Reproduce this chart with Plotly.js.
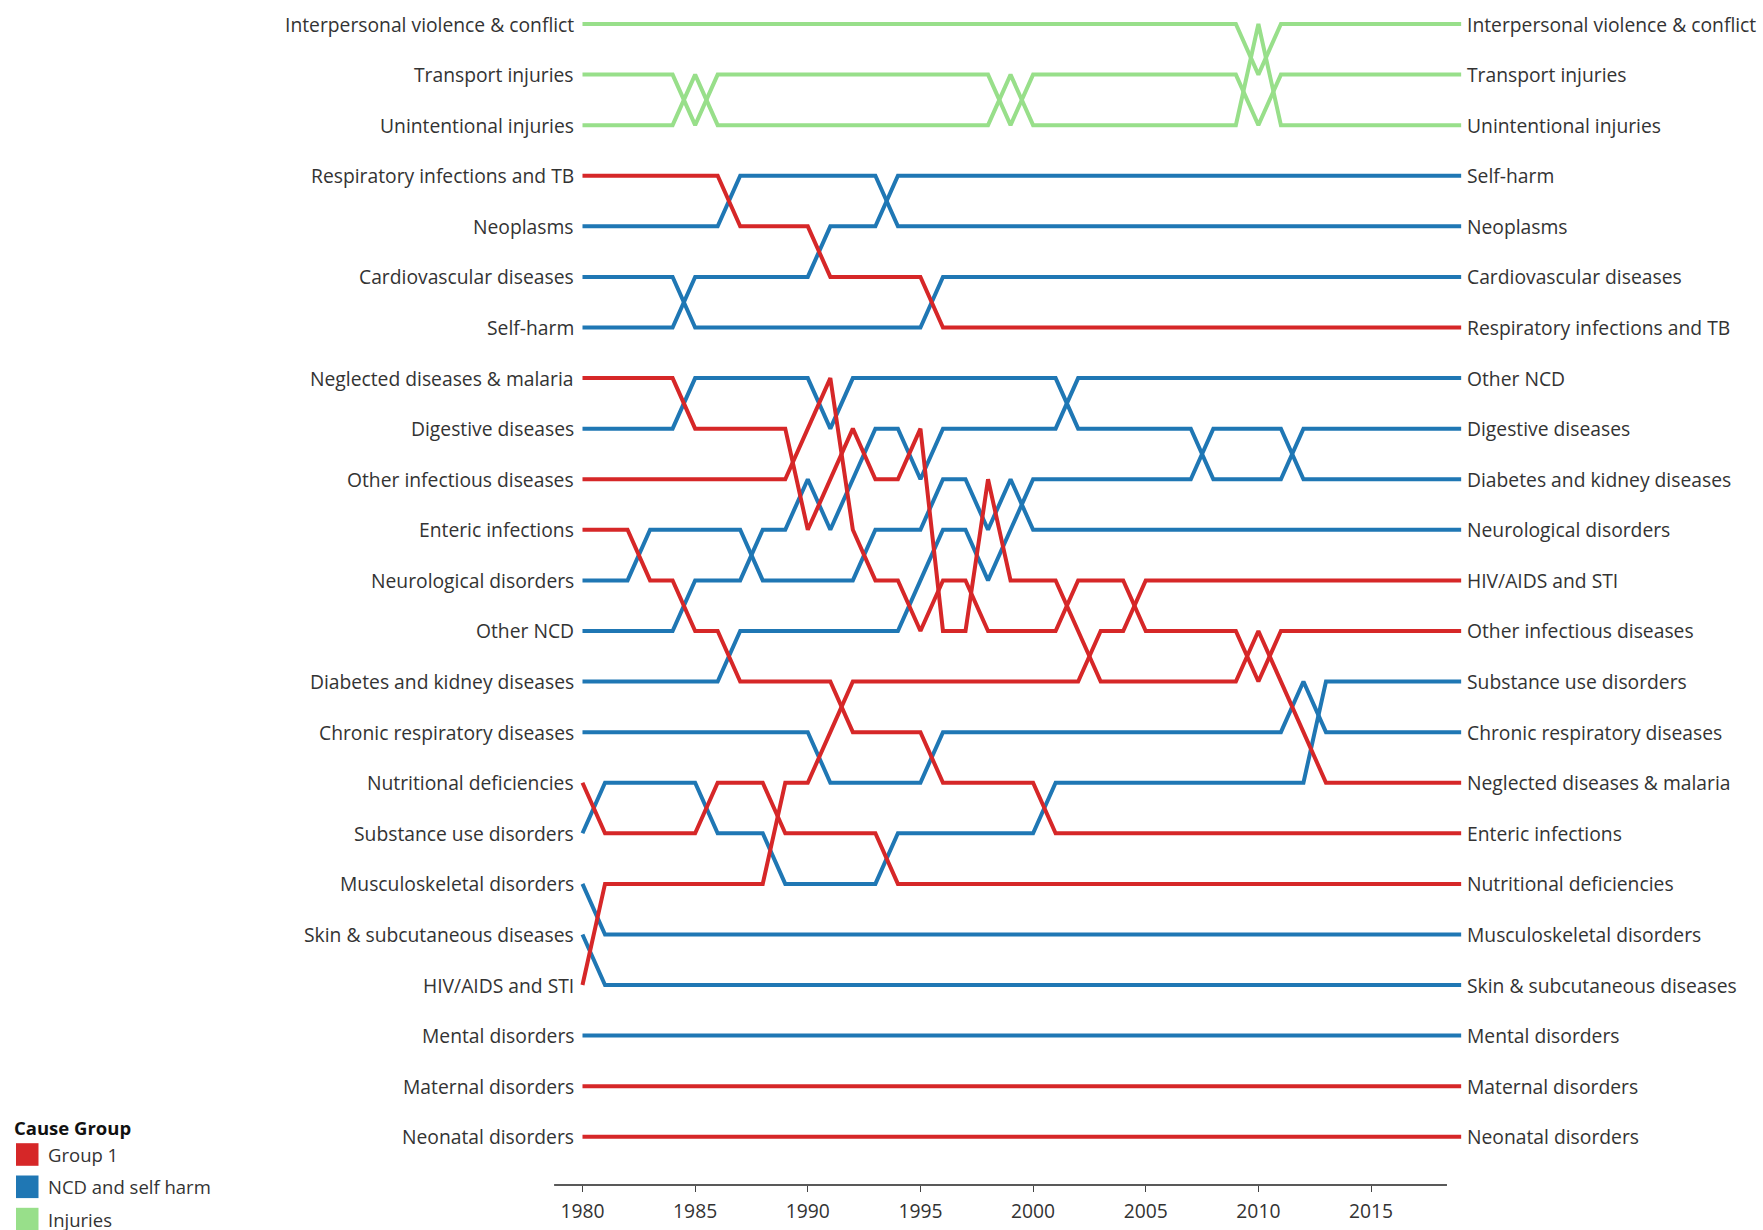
<!DOCTYPE html>
<html>
<head>
<meta charset="utf-8">
<script src="https://cdn.plot.ly/plotly-3.0.1.min.js"></script>
<style>
html,body{margin:0;padding:0;background:#ffffff;}
#chart{width:1763px;height:1230px;}
</style>
</head>
<body>
<div id="chart"></div>
<script>
// ---------------- DATA ----------------
const years = [1980,1981,1982,1983,1984,1985,1986,1987,1988,1989,
               1990,1991,1992,1993,1994,1995,1996,1997,1998,1999,
               2000,2001,2002,2003,2004,2005,2006,2007,2008,2009,
               2010,2011,2012,2013,2014,2015,2016,2017,2018,2019];
const tickYears = [1980,1985,1990,1995,2000,2005,2010,2015];

const groupNames  = ['Group 1','NCD and self harm','Injuries'];
const groupColors = ['#d62728','#1f77b4','#98df8a'];

const causeNames = [
  'Interpersonal violence & conflict','Transport injuries','Unintentional injuries',
  'Respiratory infections and TB','Neoplasms','Cardiovascular diseases','Self-harm',
  'Neglected diseases & malaria','Digestive diseases','Other infectious diseases',
  'Enteric infections','Neurological disorders','Other NCD','Diabetes and kidney diseases',
  'Chronic respiratory diseases','Nutritional deficiencies','Substance use disorders',
  'Musculoskeletal disorders','Skin & subcutaneous diseases','HIV/AIDS and STI',
  'Mental disorders','Maternal disorders','Neonatal disorders'
];
const causeGroups = [
  'Injuries','Injuries','Injuries',
  'Group 1','NCD and self harm','NCD and self harm','NCD and self harm',
  'Group 1','NCD and self harm','Group 1',
  'Group 1','NCD and self harm','NCD and self harm','NCD and self harm',
  'NCD and self harm','Group 1','NCD and self harm',
  'NCD and self harm','NCD and self harm','Group 1',
  'NCD and self harm','Group 1','Group 1'
];

// rank per year (1 = top)
const rankInterpersonal = [1,1,1,1,1,1,1,1,1,1, 1,1,1,1,1,1,1,1,1,1, 1,1,1,1,1,1,1,1,1,1, 2,1,1,1,1,1,1,1,1,1];
const rankTransport     = [2,2,2,2,2,3,2,2,2,2, 2,2,2,2,2,2,2,2,2,3, 2,2,2,2,2,2,2,2,2,2, 3,2,2,2,2,2,2,2,2,2];
const rankUnintentional = [3,3,3,3,3,2,3,3,3,3, 3,3,3,3,3,3,3,3,3,2, 3,3,3,3,3,3,3,3,3,3, 1,3,3,3,3,3,3,3,3,3];
const rankRespiratory   = [4,4,4,4,4,4,4,5,5,5, 5,6,6,6,6,6,7,7,7,7, 7,7,7,7,7,7,7,7,7,7, 7,7,7,7,7,7,7,7,7,7];
const rankNeoplasms     = [5,5,5,5,5,5,5,4,4,4, 4,4,4,4,5,5,5,5,5,5, 5,5,5,5,5,5,5,5,5,5, 5,5,5,5,5,5,5,5,5,5];
const rankCardio        = [6,6,6,6,6,7,7,7,7,7, 7,7,7,7,7,7,6,6,6,6, 6,6,6,6,6,6,6,6,6,6, 6,6,6,6,6,6,6,6,6,6];
const rankSelfHarm      = [7,7,7,7,7,6,6,6,6,6, 6,5,5,5,4,4,4,4,4,4, 4,4,4,4,4,4,4,4,4,4, 4,4,4,4,4,4,4,4,4,4];
const rankNeglected     = [8,8,8,8,8,9,9,9,9,9, 11,10,9,10,10,9,13,13,10,12, 12,12,13,14,14,14,14,14,14,14, 13,14,15,16,16,16,16,16,16,16];
const rankDigestive     = [9,9,9,9,9,8,8,8,8,8, 8,9,8,8,8,8,8,8,8,8, 8,8,9,9,9,9,9,9,10,10, 10,10,9,9,9,9,9,9,9,9];
const rankOtherInf      = [10,10,10,10,10,10,10,10,10,10, 9,8,11,12,12,13,12,12,13,13, 13,13,12,12,12,13,13,13,13,13, 14,13,13,13,13,13,13,13,13,13];
const rankEnteric       = [11,11,11,12,12,13,13,14,14,14, 14,14,15,15,15,15,16,16,16,16, 16,17,17,17,17,17,17,17,17,17, 17,17,17,17,17,17,17,17,17,17];
const rankNeuro         = [12,12,12,11,11,11,11,11,12,12, 12,12,12,11,11,11,10,10,11,10, 11,11,11,11,11,11,11,11,11,11, 11,11,11,11,11,11,11,11,11,11];
const rankOtherNCD      = [13,13,13,13,13,12,12,12,11,11, 10,11,10,9,9,10,9,9,9,9, 9,9,8,8,8,8,8,8,8,8, 8,8,8,8,8,8,8,8,8,8];
const rankDiabetes      = [14,14,14,14,14,14,14,13,13,13, 13,13,13,13,13,12,11,11,12,11, 10,10,10,10,10,10,10,10,9,9, 9,9,10,10,10,10,10,10,10,10];
const rankChronicResp   = [15,15,15,15,15,15,15,15,15,15, 15,16,16,16,16,16,15,15,15,15, 15,15,15,15,15,15,15,15,15,15, 15,15,14,15,15,15,15,15,15,15];
const rankNutritional   = [16,17,17,17,17,17,16,16,16,17, 17,17,17,17,18,18,18,18,18,18, 18,18,18,18,18,18,18,18,18,18, 18,18,18,18,18,18,18,18,18,18];
const rankSubstance     = [17,16,16,16,16,16,17,17,17,18, 18,18,18,18,17,17,17,17,17,17, 17,16,16,16,16,16,16,16,16,16, 16,16,16,14,14,14,14,14,14,14];
const rankMusculo       = [18,19,19,19,19,19,19,19,19,19, 19,19,19,19,19,19,19,19,19,19, 19,19,19,19,19,19,19,19,19,19, 19,19,19,19,19,19,19,19,19,19];
const rankSkin          = [19,20,20,20,20,20,20,20,20,20, 20,20,20,20,20,20,20,20,20,20, 20,20,20,20,20,20,20,20,20,20, 20,20,20,20,20,20,20,20,20,20];
const rankHIV           = [20,18,18,18,18,18,18,18,18,16, 16,15,14,14,14,14,14,14,14,14, 14,14,14,13,13,12,12,12,12,12, 12,12,12,12,12,12,12,12,12,12];
const rankMental        = [21,21,21,21,21,21,21,21,21,21, 21,21,21,21,21,21,21,21,21,21, 21,21,21,21,21,21,21,21,21,21, 21,21,21,21,21,21,21,21,21,21];
const rankMaternal      = [22,22,22,22,22,22,22,22,22,22, 22,22,22,22,22,22,22,22,22,22, 22,22,22,22,22,22,22,22,22,22, 22,22,22,22,22,22,22,22,22,22];
const rankNeonatal      = [23,23,23,23,23,23,23,23,23,23, 23,23,23,23,23,23,23,23,23,23, 23,23,23,23,23,23,23,23,23,23, 23,23,23,23,23,23,23,23,23,23];

const causeRanks = [
  rankInterpersonal, rankTransport, rankUnintentional,
  rankRespiratory, rankNeoplasms, rankCardio, rankSelfHarm,
  rankNeglected, rankDigestive, rankOtherInf,
  rankEnteric, rankNeuro, rankOtherNCD, rankDiabetes,
  rankChronicResp, rankNutritional, rankSubstance,
  rankMusculo, rankSkin, rankHIV,
  rankMental, rankMaternal, rankNeonatal
];

// ---------------- CHART ----------------
const W = 1763, H = 1230;
const FONT = 'Open Sans, sans-serif';
const TXT = '#333333';
const FS = 19.3;

function colorOf(g){ return groupColors[groupNames.indexOf(g)]; }

// draw order: injuries, NCD, then Group 1 on top
const drawOrder = ['Injuries','NCD and self harm','Group 1'];
const traces = [];
drawOrder.forEach(function(g){
  causeNames.forEach(function(name, i){
    if (causeGroups[i] !== g) return;
    traces.push({
      type: 'scatter', mode: 'lines',
      x: years, y: causeRanks[i], name: name,
      line: {color: colorOf(g), width: 4, shape: 'linear'},
      hoverinfo: 'x+y+name', showlegend: false
    });
  });
});

const annotations = [];
const last = years.length - 1;
causeNames.forEach(function(name, i){
  annotations.push({
    x: years[0], y: causeRanks[i][0], xref: 'x', yref: 'y',
    text: name, showarrow: false, xanchor: 'right', yanchor: 'middle',
    xshift: -6, font: {family: FONT, size: FS, color: TXT}
  });
  annotations.push({
    x: years[last], y: causeRanks[i][last], xref: 'x', yref: 'y',
    text: name, showarrow: false, xanchor: 'left', yanchor: 'middle',
    xshift: 4, font: {family: FONT, size: FS, color: TXT}
  });
});

// legend (drawn manually, Tableau style)
const px = function(v){ return v / W; };
const py = function(v){ return (H - v) / H; };
annotations.push({
  x: px(12), y: py(1127), xref: 'paper', yref: 'paper',
  text: '<b>Cause Group</b>', showarrow: false, xanchor: 'left', yanchor: 'middle',
  font: {family: FONT, size: 18.5, color: '#111'}
});
const shapes = [];
groupNames.forEach(function(g, j){
  const cy = 1154.5 + j * 32.3;
  shapes.push({
    type: 'rect', xref: 'paper', yref: 'paper',
    x0: px(16), x1: px(38.5), y0: py(cy - 11.3), y1: py(cy + 11.3),
    fillcolor: groupColors[j], line: {width: 0}
  });
  annotations.push({
    x: px(46), y: py(cy), xref: 'paper', yref: 'paper',
    text: g, showarrow: false, xanchor: 'left', yanchor: 'middle',
    font: {family: FONT, size: 18.5, color: TXT}
  });
});

// x-axis baseline (shorter than the data span, as in the original)
const axisY = (H - 1185) / H;
shapes.push({
  type: 'line', xref: 'x', yref: 'paper',
  x0: 1978.74, x1: 2018.37, y0: axisY, y1: axisY,
  line: {color: '#222', width: 1.5}
});

const layout = {
  width: W, height: H,
  margin: {l: 0, r: 0, t: 0, b: 0, pad: 0},
  paper_bgcolor: '#ffffff', plot_bgcolor: '#ffffff',
  showlegend: false,
  xaxis: {
    range: [1954.146, 2032.397],
    anchor: 'free', position: axisY,
    showgrid: false, zeroline: false, showline: false,
    tickmode: 'array', tickvals: tickYears, ticktext: tickYears.map(String),
    ticks: 'outside', ticklen: 6, tickwidth: 1, tickcolor: '#444',
    ticklabelstandoff: 3,
    tickfont: {family: FONT, size: FS, color: TXT},
    fixedrange: true
  },
  yaxis: {
    range: [24.843, 0.5255],
    visible: false, showgrid: false, zeroline: false, fixedrange: true
  },
  annotations: annotations,
  shapes: shapes,
  font: {family: FONT, color: TXT}
};

Plotly.newPlot('chart', traces, layout, {displayModeBar: false, staticPlot: true});
</script>
</body>
</html>
